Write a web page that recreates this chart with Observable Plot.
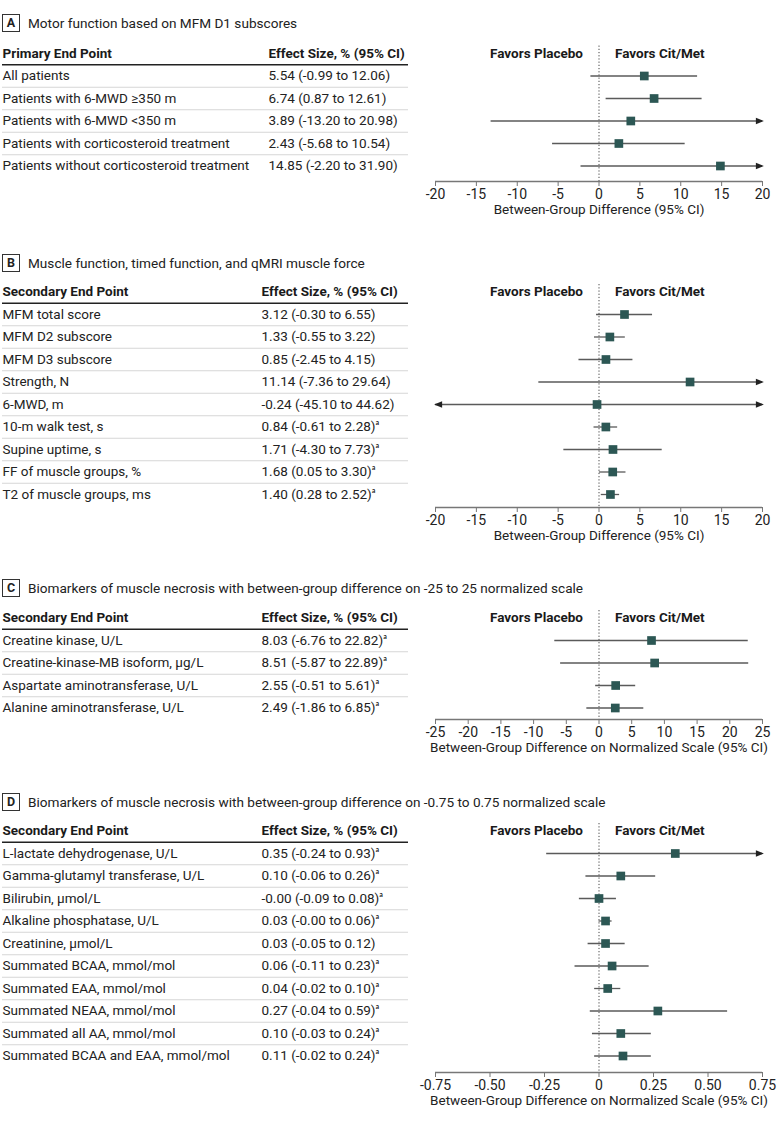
<!DOCTYPE html>
<html><head><meta charset="utf-8">
<script src="https://cdn.jsdelivr.net/npm/d3@7"></script>
<script src="https://cdn.jsdelivr.net/npm/@observablehq/plot@0.6"></script>
<style>
body{margin:0;background:#fff;font-family:Roboto,Lato,sans-serif;color:#222;}
#root{position:relative;width:780px;height:1124px;overflow:hidden;}
.panel{position:absolute;left:0;width:780px;}
.ttl{height:24px;display:flex;align-items:center;font-size:13.6px;color:#222;white-space:nowrap;}
.box{display:inline-block;box-sizing:border-box;width:18px;height:18px;border:1.3px solid #333;margin-left:2px;margin-right:8px;font-weight:bold;font-size:12.5px;text-align:center;line-height:16px;}
svg{display:block;}
</style></head>
<body><div id="root"></div>
<script>
// ---------- Panel A ----------
const aTitle = "Motor function based on MFM D1 subscores";
const aHeader = "Primary End Point";
const aLabels = ["All patients","Patients with 6-MWD ≥350 m","Patients with 6-MWD <350 m","Patients with corticosteroid treatment","Patients without corticosteroid treatment"];
const aEst = [5.54, 6.74, 3.89, 2.43, 14.85];
const aLo  = [-0.99, 0.87, -13.20, -5.68, -2.20];
const aHi  = [12.06, 12.61, 20.98, 10.54, 31.90];
const aNote = [false,false,false,false,false];
const aDomain = [-20, 20];
const aTicks = [-20,-15,-10,-5,0,5,10,15,20];

// ---------- Panel B ----------
const bTitle = "Muscle function, timed function, and qMRI muscle force";
const bHeader = "Secondary End Point";
const bLabels = ["MFM total score","MFM D2 subscore","MFM D3 subscore","Strength, N","6-MWD, m","10-m walk test, s","Supine uptime, s","FF of muscle groups, %","T2 of muscle groups, ms"];
const bEst = [3.12, 1.33, 0.85, 11.14, -0.24, 0.84, 1.71, 1.68, 1.40];
const bLo  = [-0.30, -0.55, -2.45, -7.36, -45.10, -0.61, -4.30, 0.05, 0.28];
const bHi  = [6.55, 3.22, 4.15, 29.64, 44.62, 2.28, 7.73, 3.30, 2.52];
const bNote = [false,false,false,false,false,true,true,true,true];
const bDomain = [-20, 20];
const bTicks = [-20,-15,-10,-5,0,5,10,15,20];

// ---------- Panel C ----------
const cTitle = "Biomarkers of muscle necrosis with between-group difference on -25 to 25 normalized scale";
const cHeader = "Secondary End Point";
const cLabels = ["Creatine kinase, U/L","Creatine-kinase-MB isoform, µg/L","Aspartate aminotransferase, U/L","Alanine aminotransferase, U/L"];
const cEst = [8.03, 8.51, 2.55, 2.49];
const cLo  = [-6.76, -5.87, -0.51, -1.86];
const cHi  = [22.82, 22.89, 5.61, 6.85];
const cNote = [true,true,true,true];
const cDomain = [-25, 25];
const cTicks = [-25,-20,-15,-10,-5,0,5,10,15,20,25];

// ---------- Panel D ----------
const dTitle = "Biomarkers of muscle necrosis with between-group difference on -0.75 to 0.75 normalized scale";
const dHeader = "Secondary End Point";
const dLabels = ["L-lactate dehydrogenase, U/L","Gamma-glutamyl transferase, U/L","Bilirubin, µmol/L","Alkaline phosphatase, U/L","Creatinine, µmol/L","Summated BCAA, mmol/mol","Summated EAA, mmol/mol","Summated NEAA, mmol/mol","Summated all AA, mmol/mol","Summated BCAA and EAA, mmol/mol"];
const dEst = [0.35, 0.10, -0, 0.03, 0.03, 0.06, 0.04, 0.27, 0.10, 0.11];
const dLo  = [-0.24, -0.06, -0.09, -0, -0.05, -0.11, -0.02, -0.04, -0.03, -0.02];
const dHi  = [0.93, 0.26, 0.08, 0.06, 0.12, 0.23, 0.10, 0.59, 0.24, 0.24];
const dNote = [true,true,true,true,false,true,true,true,true,true];
const dDomain = [-0.75, 0.75];
const dTicks = [-0.75,-0.5,-0.25,0,0.25,0.5,0.75];

const effectHeader = "Effect Size, % (95% CI)";
const favorsLeft = "Favors Placebo";
const favorsRight = "Favors Cit/Met";
const axisLabel1 = "Between-Group Difference (95% CI)";
const axisLabel2 = "Between-Group Difference on Normalized Scale (95% CI)";

function fmt(v){
  const neg = v < 0 || Object.is(v, -0);
  return (neg ? "-" : "") + Math.abs(v).toFixed(2);
}
const triRight = {draw(ctx, size){ const r = Math.sqrt(size/Math.PI); ctx.moveTo(r*1.1,0); ctx.lineTo(-r*0.9,-r*0.8); ctx.lineTo(-r*0.9,r*0.8); ctx.closePath(); }};
const triLeft  = {draw(ctx, size){ const r = Math.sqrt(size/Math.PI); ctx.moveTo(-r*1.1,0); ctx.lineTo(r*0.9,-r*0.8); ctx.lineTo(r*0.9,r*0.8); ctx.closePath(); }};

const SQUARE = "#2c5754";
const LINE = "#5a5a5a";
const FONT = "Roboto, Lato, sans-serif";
const FS = 13.5;

function panel(cfg){
  const rowH = 22.5;
  const rows = cfg.labels.map((label,i)=>({
    i: i+1, label, est: cfg.est[i], lo: cfg.lo[i], hi: cfg.hi[i],
    text: `${fmt(cfg.est[i])} (${fmt(cfg.lo[i])} to ${fmt(cfg.hi[i])})${cfg.note[i] ? "ᵃ" : ""}`
  }));
  const top = cfg.titleY - 12;
  const svgTop = top + 24;
  const headerAbs = cfg.row1 - rowH;
  const headerSvg = headerAbs - svgTop;
  const bottomVal = (cfg.axisY - headerAbs) / rowH;
  const frameBottom = cfg.axisY - svgTop;
  const marginTop = headerSvg - rowH/2;
  const marginBottom = 48;
  const height = frameBottom + marginBottom;
  const [x0, x1] = cfg.domain;
  const tableRight = 408;
  const plotLeft = 435, plotRight = 762;
  const insetR = plotRight - tableRight;

  const chart = Plot.plot({
    width: 780,
    height,
    marginLeft: 2,
    marginRight: 780 - plotRight,
    marginTop,
    marginBottom,
    style: {fontFamily: FONT, fontSize: FS + "px", color: "#222", background: "#fff"},
    x: {domain: cfg.domain, range: [plotLeft, plotRight]},
    y: {domain: [-0.5, bottomVal], range: [marginTop, frameBottom], axis: null},
    marks: [
      // table rules
      Plot.ruleY([0.5], {stroke: "#222", strokeWidth: 1.5, insetRight: insetR}),
      Plot.ruleY(rows.slice(0,-1), {y: d => d.i + 0.5, stroke: "#d6d6d6", strokeWidth: 1, insetRight: insetR}),
      // headers
      Plot.text([cfg.header], {y: () => 0, text: d => d, frameAnchor: "left", textAnchor: "start", fontWeight: "bold", fill: "#1a1a1a"}),
      Plot.text([effectHeader], {y: () => 0, text: d => d, frameAnchor: "left", textAnchor: "start", dx: cfg.effectX - 2, fontWeight: "bold", fill: "#1a1a1a"}),
      Plot.text([favorsLeft], {x: () => 0, y: () => 0, text: d => d, textAnchor: "end", dx: -16, fontWeight: "bold", fill: "#1a1a1a"}),
      Plot.text([favorsRight], {x: () => 0, y: () => 0, text: d => d, textAnchor: "start", dx: 16, fontWeight: "bold", fill: "#1a1a1a"}),
      // table body
      Plot.text(rows, {y: "i", text: "label", frameAnchor: "left", textAnchor: "start", fill: "#222"}),
      Plot.text(rows, {y: "i", text: "text", frameAnchor: "left", textAnchor: "start", dx: cfg.effectX - 2, fill: "#222"}),
      // reference line at zero
      Plot.ruleX([0], {y1: -0.33, y2: bottomVal, stroke: "#444", strokeDasharray: "1.2,2", strokeWidth: 1}),
      // axis
      Plot.ruleY([bottomVal], {x1: x0, x2: x1, stroke: "#777", strokeWidth: 1.5}),
      Plot.axisX({ticks: cfg.ticks, tickFormat: cfg.tickFormat, tickSize: 5, tickPadding: 3, stroke: "#777", fill: "#222", fontSize: 14, label: null}),
      Plot.text([cfg.axisLabel], {x: () => (x0 + x1) / 2, text: d => d, frameAnchor: "bottom", dy: 32, fill: "#222"}),
      // CIs
      Plot.ruleY(rows, {y: "i", x1: d => Math.max(d.lo, x0), x2: d => Math.min(d.hi, x1), stroke: LINE, strokeWidth: 1.3}),
      Plot.dot(rows.filter(d => d.hi > x1), {x: () => x1, y: "i", symbol: triRight, r: 4, fill: "#222", stroke: null, dx: -3}),
      Plot.dot(rows.filter(d => d.lo < x0), {x: () => x0, y: "i", symbol: triLeft, r: 4, fill: "#222", stroke: null, dx: 3}),
      Plot.dot(rows, {x: "est", y: "i", symbol: "square", r: 4.9, fill: SQUARE, stroke: null})
    ]
  });

  const div = document.createElement("div");
  div.className = "panel";
  div.style.top = top + "px";
  const t = document.createElement("div");
  t.className = "ttl";
  const box = document.createElement("span");
  box.className = "box";
  box.textContent = cfg.letter;
  t.appendChild(box);
  t.appendChild(document.createTextNode(cfg.title));
  div.appendChild(t);
  div.appendChild(chart);
  document.getElementById("root").appendChild(div);
}

const intFmt = d => String(d);
const decFmt = d => d === 0 ? "0" : (d < 0 ? "-" : "") + Math.abs(d).toFixed(2);

panel({letter: "A", title: aTitle, header: aHeader, labels: aLabels, est: aEst, lo: aLo, hi: aHi, note: aNote,
  domain: aDomain, ticks: aTicks, tickFormat: intFmt, axisLabel: axisLabel1, effectX: 268, titleY: 23, row1: 75.5, axisY: 181});
panel({letter: "B", title: bTitle, header: bHeader, labels: bLabels, est: bEst, lo: bLo, hi: bHi, note: bNote,
  domain: bDomain, ticks: bTicks, tickFormat: intFmt, axisLabel: axisLabel1, effectX: 261, titleY: 263, row1: 314, axisY: 507});
panel({letter: "C", title: cTitle, header: cHeader, labels: cLabels, est: cEst, lo: cLo, hi: cHi, note: cNote,
  domain: cDomain, ticks: cTicks, tickFormat: intFmt, axisLabel: axisLabel2, effectX: 261, titleY: 588, row1: 640, axisY: 719});
panel({letter: "D", title: dTitle, header: dHeader, labels: dLabels, est: dEst, lo: dLo, hi: dHi, note: dNote,
  domain: dDomain, ticks: dTicks, tickFormat: decFmt, axisLabel: axisLabel2, effectX: 261, titleY: 802, row1: 853, axisY: 1072});
</script>
</body></html>
